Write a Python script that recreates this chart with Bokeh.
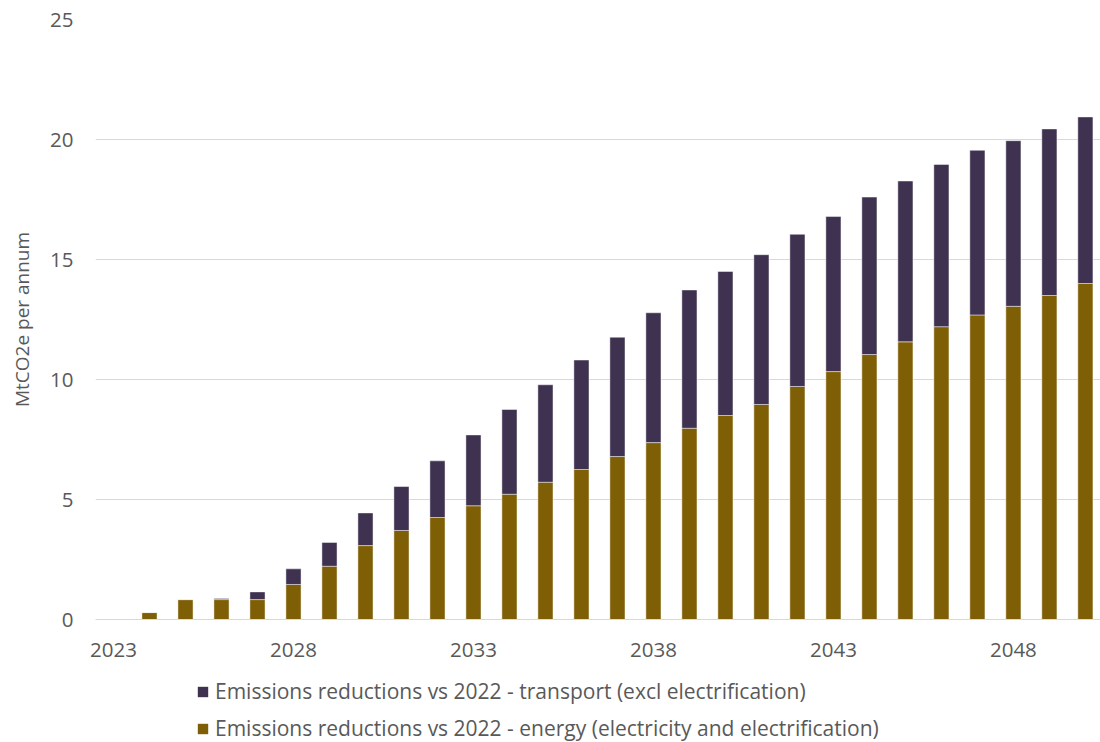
from bokeh.plotting import figure
from bokeh.layouts import column
from bokeh.models import FixedTicker, Legend, LegendItem, ColumnDataSource, Range1d
from bokeh.embed import file_html
from bokeh.resources import INLINE

years = list(range(2023, 2051))
total = [0.0, 0.29, 0.83, 0.88, 1.15, 2.11, 3.21, 4.44, 5.54, 6.61, 7.69, 8.75, 9.78, 10.81,
         11.76, 12.78, 13.73, 14.5, 15.2, 16.05, 16.79, 17.6, 18.27, 18.96, 19.55, 19.95, 20.44, 20.94]
energy = [0.0, 0.29, 0.83, 0.83, 0.83, 1.46, 2.22, 3.08, 3.71, 4.25, 4.74, 5.22, 5.72, 6.25,
          6.79, 7.37, 7.97, 8.5, 8.96, 9.71, 10.33, 11.04, 11.57, 12.2, 12.69, 13.05, 13.5, 14.0]
transport = [round(t - e, 2) for t, e in zip(total, energy)]
x_ticks = [2023, 2028, 2033, 2038, 2043, 2048]
y_ticks = [0, 5, 10, 15, 20, 25]

series = ["energy", "transport"]
labels = {
    "transport": "Emissions reductions vs 2022 - transport (excl electrification)",
    "energy": "Emissions reductions vs 2022 - energy (electricity and electrification)",
}
colors = {"energy": "#7F5F06", "transport": "#3F3150"}

src = ColumnDataSource(dict(year=years, energy=energy, transport=transport))

FONT = "Open Sans"
TXT = "#595959"

p = figure(width=1100, height=665, output_backend="svg", toolbar_location=None,
           x_range=Range1d(2022.5, 2050.42), y_range=Range1d(0, 25),
           min_border_left=95, min_border_right=0, min_border_top=19, min_border_bottom=46)
p.outline_line_color = None

r = p.vbar_stack(series, x="year", width=0.42, source=src,
                 color=[colors[s] for s in series],
                 line_color="white", line_alpha=0.45, line_width=1)

p.xaxis.ticker = FixedTicker(ticks=x_ticks)
p.yaxis.ticker = FixedTicker(ticks=y_ticks)
p.xgrid.grid_line_color = None
p.ygrid.grid_line_color = "#D9D9D9"
p.ygrid.grid_line_width = 1

p.xaxis.axis_line_color = "#D9D9D9"
p.xaxis.major_tick_line_color = None
p.xaxis.minor_tick_line_color = None
p.xaxis.major_label_standoff = 17
p.xaxis.major_label_text_font = FONT
p.xaxis.major_label_text_font_size = "20.5px"
p.xaxis.major_label_text_color = TXT

p.yaxis.axis_line_color = None
p.yaxis.major_tick_line_color = None
p.yaxis.minor_tick_line_color = None
p.yaxis.major_label_standoff = 16
p.yaxis.major_label_text_font = FONT
p.yaxis.major_label_text_font_size = "20.5px"
p.yaxis.major_label_text_color = TXT
p.yaxis.axis_label = "MtCO2e per annum"
p.yaxis.axis_label_text_font = FONT
p.yaxis.axis_label_text_font_size = "19px"
p.yaxis.axis_label_text_font_style = "normal"
p.yaxis.axis_label_text_color = TXT
p.yaxis.axis_label_standoff = 12

# legend strip below the chart
lf = figure(width=1100, height=77, output_backend="svg", toolbar_location=None,
            x_range=Range1d(0, 1), y_range=Range1d(0, 1),
            x_axis_type=None, y_axis_type=None,
            min_border_left=0, min_border_right=0, min_border_top=0, min_border_bottom=0)
lf.outline_line_color = None
lf.xgrid.visible = False
lf.ygrid.visible = False
lr = lf.vbar_stack(series, x="year", width=0.42, source=src,
                   color=[colors[s] for s in series], line_color=None)

legend = Legend(items=[LegendItem(label=labels["transport"], renderers=[lr[1]]),
                       LegendItem(label=labels["energy"], renderers=[lr[0]])],
                location=(101, 0), orientation="vertical",
                glyph_width=13, glyph_height=13, label_standoff=6, spacing=9,
                padding=0, margin=0, border_line_color=None, background_fill_alpha=0,
                label_text_font=FONT, label_text_font_size="21px", label_text_color=TXT)
lf.add_layout(legend, "center")

open("out.html", "w").write(file_html(column(p, lf, spacing=0), INLINE))
